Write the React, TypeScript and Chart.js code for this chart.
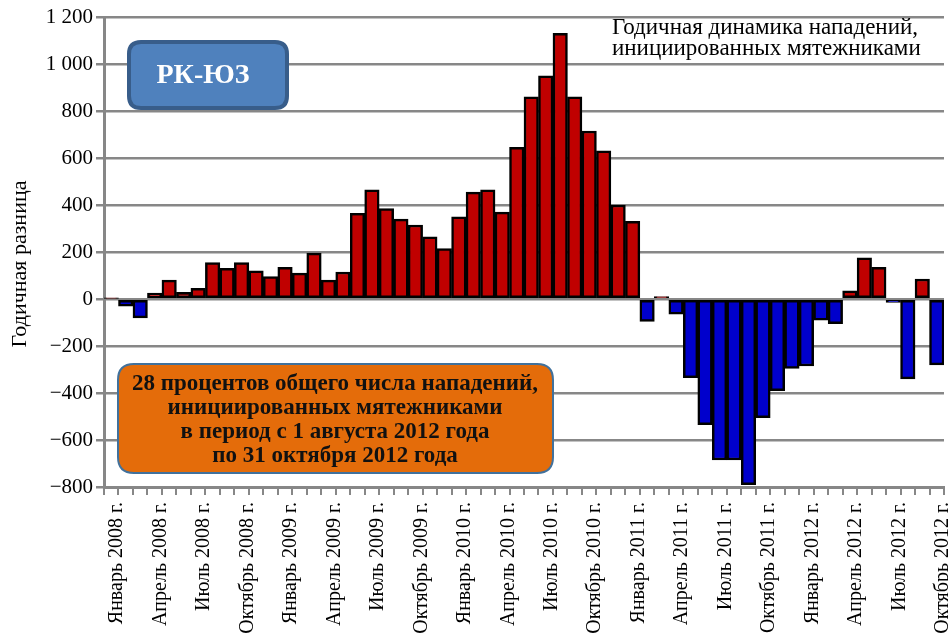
import React, { useEffect, useRef } from 'react';
import { Chart, registerables } from 'chart.js';

Chart.register(...registerables);

const MONTHS = ['Январь', 'Февраль', 'Март', 'Апрель', 'Май', 'Июнь', 'Июль', 'Август', 'Сентябрь', 'Октябрь', 'Ноябрь', 'Декабрь'];
const YEARS = [2008, 2009, 2010, 2011, 2012];
const LAST_MONTH_2012 = 10;

const CATEGORIES: string[] = [];
YEARS.forEach((y) => {
  const count = y === 2012 ? LAST_MONTH_2012 : 12;
  for (let m = 0; m < count; m++) CATEGORIES.push(`${MONTHS[m]} ${y} г.`);
});

// Year-over-year difference in insurgent-initiated attacks, RC-SW
const VALUES = [
  3, -30, -80, 25, 80, 28, 45, 155, 130, 155, 120, 95,
  135, 110, 195, 80, 115, 365, 465, 385, 340, 315, 265, 215,
  350, 455, 465, 370, 645, 860, 950, 1130, 860, 715, 630, 400,
  330, -95, 10, -65, -335, -535, -685, -685, -790, -505, -390, -295,
  -285, -90, -105, 35, 175, 135, -15, -340, 85, -280,
];

const Y_MIN = -800;
const Y_MAX = 1200;
const Y_STEP = 200;

const Y_TITLE = 'Годичная разница';
const CAPTION_LINES = ['Годичная динамика нападений,', 'инициированных мятежниками'];
const BADGE_TEXT = 'РК-ЮЗ';
const NOTE_LINES = [
  '28 процентов общего числа нападений,',
  'инициированных мятежниками',
  'в период с 1 августа 2012 года',
  'по 31 октября 2012 года',
];

const SERIF = "'Liberation Serif', 'Times New Roman', serif";
const GRID = '#878787';

function roundRectPath(ctx: CanvasRenderingContext2D, x: number, y: number, w: number, h: number, r: number) {
  ctx.beginPath();
  ctx.moveTo(x + r, y);
  ctx.lineTo(x + w - r, y);
  ctx.quadraticCurveTo(x + w, y, x + w, y + r);
  ctx.lineTo(x + w, y + h - r);
  ctx.quadraticCurveTo(x + w, y + h, x + w - r, y + h);
  ctx.lineTo(x + r, y + h);
  ctx.quadraticCurveTo(x, y + h, x, y + h - r);
  ctx.lineTo(x, y + r);
  ctx.quadraticCurveTo(x, y, x + r, y);
  ctx.closePath();
}

const annotations = {
  id: 'annotations',
  afterDraw(chart: any) {
    const ctx: CanvasRenderingContext2D = chart.ctx;
    const area = chart.chartArea;
    ctx.save();

    // y-axis title
    ctx.save();
    ctx.translate(20, (area.top + area.bottom) / 2 + 12);
    ctx.rotate(-Math.PI / 2);
    ctx.fillStyle = '#000';
    ctx.font = `22px ${SERIF}`;
    ctx.textAlign = 'center';
    ctx.textBaseline = 'middle';
    ctx.fillText(Y_TITLE, 0, 0);
    ctx.restore();

    // caption top right
    ctx.fillStyle = '#000';
    ctx.font = `23px ${SERIF}`;
    ctx.textAlign = 'left';
    ctx.textBaseline = 'middle';
    CAPTION_LINES.forEach((l, i) => ctx.fillText(l, 612, 28 + i * 21));

    // blue badge
    roundRectPath(ctx, 129, 42, 158, 66, 12);
    ctx.fillStyle = '#4F81BD';
    ctx.fill();
    ctx.lineWidth = 4;
    ctx.strokeStyle = '#385D8A';
    ctx.stroke();
    ctx.fillStyle = '#ffffff';
    ctx.font = `bold 28px ${SERIF}`;
    ctx.textAlign = 'center';
    ctx.fillText(BADGE_TEXT, 203, 76);

    // orange note
    roundRectPath(ctx, 118, 364, 435, 109, 16);
    ctx.fillStyle = '#E46C0A';
    ctx.fill();
    ctx.lineWidth = 2;
    ctx.strokeStyle = '#41719C';
    ctx.stroke();
    ctx.fillStyle = '#111';
    ctx.font = `bold 23px ${SERIF}`;
    ctx.textAlign = 'center';
    NOTE_LINES.forEach((l, i) => ctx.fillText(l, 335, 384 + i * 24));

    ctx.restore();
  },
};

function formatTick(v: number): string {
  const n = Math.abs(v);
  const s = n >= 1000 ? `${Math.floor(n / 1000)} ${String(n % 1000).padStart(3, '0')}` : String(n);
  return (v < 0 ? '−' : '') + s;
}

export default function App() {
  const ref = useRef<HTMLCanvasElement>(null);

  useEffect(() => {
    if (!ref.current) return;
    const chart = new Chart(ref.current, {
      type: 'bar',
      data: {
        labels: CATEGORIES,
        datasets: [
          {
            data: VALUES,
            backgroundColor: (c: any) => ((c.raw ?? 0) >= 0 ? '#C00000' : '#0000CC'),
            borderColor: '#000000',
            borderWidth: 2.5,
            borderSkipped: false,
            barPercentage: 1,
            categoryPercentage: 1,
          },
        ],
      },
      options: {
        responsive: false,
        animation: false,
        devicePixelRatio: 1,
        layout: { padding: { top: 17, right: 4, left: 0, bottom: 0 } },
        plugins: {
          legend: { display: false },
          tooltip: { enabled: false },
        },
        scales: {
          x: {
            offset: true,
            grid: {
              offset: true,
              drawOnChartArea: false,
              drawTicks: true,
              tickLength: 8,
              color: GRID,
              lineWidth: 2,
            },
            border: { color: GRID, width: 3 },
            ticks: {
              autoSkip: false,
              minRotation: 90,
              maxRotation: 90,
              padding: 7,
              labelOffset: 6,
              color: '#000',
              font: { family: SERIF, size: 20 },
              callback: (_v: any, i: number) => (i % 3 === 0 ? CATEGORIES[i] : ''),
            },
            afterFit: (s: any) => {
              s.height = 148;
              s.paddingLeft = 0;
              s.paddingRight = 0;
            },
          },
          y: {
            min: Y_MIN,
            max: Y_MAX,
            ticks: {
              stepSize: Y_STEP,
              color: '#000',
              padding: 3,
              font: { family: SERIF, size: 21 },
              callback: (v: any) => formatTick(Number(v)),
            },
            grid: { color: GRID, lineWidth: 2.5, tickLength: 8, drawTicks: true },
            border: { color: GRID, width: 3 },
            afterFit: (s: any) => {
              s.width = 104;
            },
          },
        },
      },
      plugins: [annotations],
    });
    return () => chart.destroy();
  }, []);

  return (
    <div style={{ position: 'fixed', left: 0, top: 0, width: 948, height: 635, background: '#fff' }}>
      <canvas ref={ref} width={948} height={635} style={{ display: 'block' }} />
    </div>
  );
}
